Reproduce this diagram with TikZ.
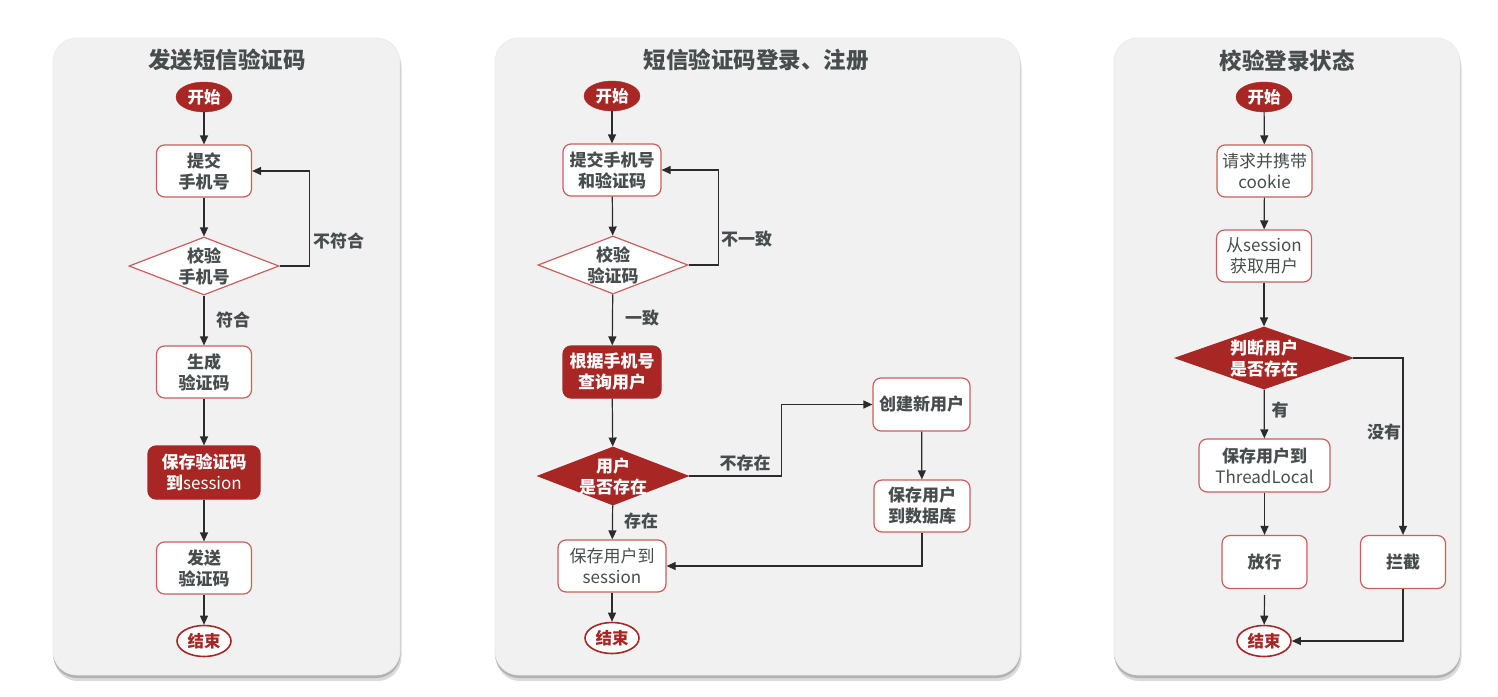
\documentclass[tikz,border=0pt]{standalone}
\usepackage{fontspec}
\setmainfont{Noto Sans CJK SC}
\usetikzlibrary{shapes.geometric,arrows.meta}
\definecolor{rd}{HTML}{A82724}
\definecolor{bd}{HTML}{CC5F5C}
\definecolor{tx}{HTML}{474D4D}
\definecolor{pn}{HTML}{F1F1F1}
\definecolor{ln}{HTML}{2B2B2B}
\tikzset{
  panel/.style={fill=pn,draw=black!8,line width=0.8pt,rounded corners=24pt},
  ttl/.style={font=\fontsize{22.5}{26}\selectfont\bfseries,text=tx},
  startnode/.style={ellipse,fill=rd,draw=rd,minimum width=56pt,minimum height=30pt,inner sep=0pt,text=white,font=\fontsize{16.5}{20}\selectfont\bfseries},
  endnode/.style={ellipse,fill=white,draw=rd,line width=1.6pt,minimum width=54pt,minimum height=31pt,inner sep=0pt,text=rd,font=\fontsize{16.5}{20}\selectfont\bfseries},
  box/.style={rectangle,rounded corners=8pt,fill=white,draw=bd,line width=1.2pt,minimum width=95pt,minimum height=52pt,inner sep=0pt,align=center,text=tx,font=\fontsize{17}{21}\selectfont\bfseries},
  thin/.style={font=\fontsize{17}{21}\selectfont\mdseries},
  rbox/.style={box,fill=rd,draw=rd,text=white},
  dia/.style={diamond,fill=white,draw=bd,line width=1.2pt,inner sep=0pt,minimum width=150pt,minimum height=58pt},
  rdia/.style={dia,fill=rd,draw=rd},
  dtxt/.style={align=center,inner sep=0pt,text=tx,font=\fontsize{17}{21}\selectfont\bfseries},
  lab/.style={inner sep=0pt,text=tx,font=\fontsize{17}{20}\selectfont\bfseries},
  arr/.style={draw=ln,line width=1.2pt,-{Triangle[length=9pt,width=8pt]}},
}
\begin{document}
\begin{tikzpicture}[x=1pt,y=-1pt]
\useasboundingbox (0,0) rectangle (1498,696);
\fill[white] (0,0) rectangle (1498,696);
% panels
\foreach \a/\b in {53/400,495/1020,1114/1460}{
  \fill[black!14,rounded corners=24pt] (\a+1,43) rectangle (\b+1.5,681);
  \fill[black!30,rounded corners=24pt] (\a,40) rectangle (\b+0.5,678);
  \path[panel] (\a,38) rectangle (\b,675);
}
% ---------- panel 1
\node[ttl] (t1) at (227,60) {发送短信验证码};
\node[startnode] (s1) at (204,97) {开始};
\node[box] (b1) at (204,171) {提交\\手机号};
\node[dia] (d1) at (204,266) {};
\node[dtxt] (d1t) at (d1) {校验\\手机号};
\node[box] (b2) at (204,372) {生成\\验证码};
\node[rbox,minimum width=112pt,minimum height=53pt] (b3) at (204,472.5) {保存验证码\\到{\mdseries session}};
\node[box] (b4) at (204,568) {发送\\验证码};
\node[endnode] (e1) at (204,641) {结束};
\draw[arr] (s1) -- (b1);
\draw[arr] (b1) -- (d1);
\draw[arr] (d1.east) -- ++(30,0) |- (b1.east);
\node[lab,anchor=west] (l1) at (313,241) {不符合};
\draw[arr] (d1) -- (b2);
\node[lab] (l2) at (233,320) {符合};
\draw[arr] (b2) -- (b3);
\draw[arr] (b3) -- (b4);
\draw[arr] (b4) -- (e1);
% ---------- panel 2
\node[ttl] (t2) at (756,60) {短信验证码登录、注册};
\node[startnode] (s2) at (612,96) {开始};
\node[box,minimum width=98pt] (c1) at (612,170) {提交手机号\\和验证码};
\node[dia] (d2) at (613,265) {};
\node[dtxt] (d2t) at (d2) {校验\\验证码};
\node[rbox,minimum width=98pt] (c2) at (612,372) {根据手机号\\查询用户};
\node[rdia] (d3) at (613,476) {};
\node[dtxt,text=white] (d3t) at (d3) {用户\\是否存在};
\node[box,minimum width=97pt,minimum height=53pt] (c3) at (921.5,404.5) {创建新用户};
\node[box,minimum width=96pt] (c4) at (922,506) {保存用户\\到数据库};
\node[box,thin,minimum width=108pt] (c5) at (612,566) {保存用户到\\session};
\node[endnode] (e2) at (612,638) {结束};
\draw[arr] (s2) -- (c1);
\draw[arr] (c1) -- (d2);
\draw[arr] (d2.east) -- ++(30,0) |- (c1.east);
\node[lab,anchor=west] (l3) at (721,239) {不一致};
\draw[arr] (d2) -- (c2);
\node[lab] (l4) at (642,318) {一致};
\draw[arr] (c2) -- (d3);
\draw[arr] (d3.east) -- ++(93,0) |- (c3.west);
\node[lab] (l5) at (745,463) {不存在};
\draw[arr] (c3) -- (c4);
\draw[arr] (c4.south) |- (c5.east);
\draw[arr] (d3) -- (c5);
\node[lab] (l6) at (641,521) {存在};
\draw[arr] (c5) -- (e2);
% ---------- panel 3
\node[ttl] (t3) at (1287,61) {校验登录状态};
\node[startnode] (s3) at (1264,97) {开始};
\node[box,thin] (f1) at (1264.5,171) {请求并携带\\cookie};
\node[box,thin] (f2) at (1264,256) {从session\\获取用户};
\node[rdia,minimum width=177pt,minimum height=62pt] (d4) at (1264,358) {};
\node[dtxt,text=white] (d4t) at (d4) {判断用户\\是否存在};
\node[box,minimum width=131pt,minimum height=53pt] (f3) at (1264.5,465.5) {保存用户到\\{\mdseries ThreadLocal}};
\node[box,minimum width=85pt,minimum height=53pt] (f4) at (1264.5,562) {放行};
\node[box,minimum width=85pt,minimum height=53pt] (f5) at (1403,562) {拦截};
\node[endnode] (e3) at (1264,641) {结束};
\draw[arr] (s3) -- (f1);
\draw[arr] (f1) -- (f2);
\draw[arr] (f2) -- (d4);
\draw[arr] (d4) -- (f3);
\node[lab] (l7) at (1280,410) {有};
\draw[arr] (f3) -- (f4);
\draw[arr] (f4.south) ++(0,6) -- (e3);
\draw[arr] (d4.east) -| (f5.north);
\node[lab] (l8) at (1384,432) {没有};
\draw[arr] (f5.south) |- (e3.east);
\end{tikzpicture}
\end{document}
